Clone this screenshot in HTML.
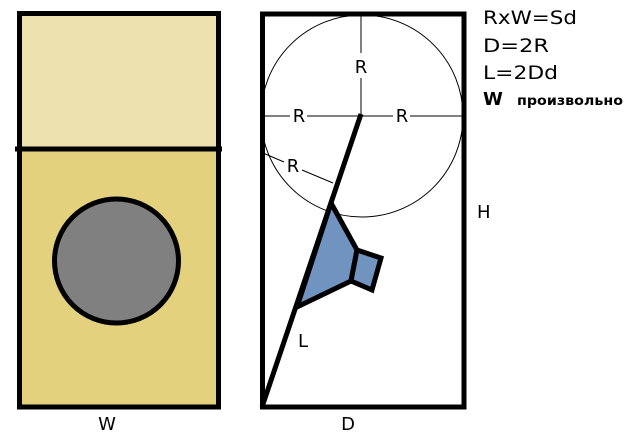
<!DOCTYPE html>
<html><head><meta charset="utf-8"><style>
html,body{margin:0;padding:0;background:#fff;width:633px;height:435px;overflow:hidden}
svg text{font-family:"DejaVu Sans","Liberation Sans",sans-serif;fill:#000}
</style></head><body>
<svg width="633" height="435" viewBox="0 0 633 435" xmlns="http://www.w3.org/2000/svg">
<rect x="19.5" y="13.5" width="199" height="136" fill="#eee1b0"/>
<rect x="19.5" y="149" width="199" height="258" fill="#e4d17e"/>
<rect x="19.5" y="13.5" width="199" height="393.5" fill="none" stroke="#000" stroke-width="5"/>
<line x1="15" y1="149" x2="222" y2="149" stroke="#000" stroke-width="5"/>
<circle cx="116.5" cy="261" r="62" fill="#808080" stroke="#000" stroke-width="5"/>

<rect x="262.5" y="14" width="201.5" height="393" fill="none" stroke="#000" stroke-width="5"/>
<circle cx="362" cy="116" r="101" fill="none" stroke="#000" stroke-width="1"/>
<line x1="262" y1="116" x2="290" y2="116" stroke="#000" stroke-width="1"/>
<line x1="307" y1="116" x2="393" y2="116" stroke="#000" stroke-width="1"/>
<line x1="410" y1="116" x2="463" y2="116" stroke="#000" stroke-width="1"/>
<line x1="361" y1="15" x2="361" y2="53" stroke="#000" stroke-width="1"/>
<line x1="361" y1="78" x2="361" y2="114" stroke="#000" stroke-width="1"/>
<line x1="263" y1="153" x2="284" y2="162" stroke="#000" stroke-width="1"/>
<line x1="302" y1="170" x2="333" y2="183" stroke="#000" stroke-width="1"/>
<polygon points="331,203 357,250 351,281 297,307" fill="#7093c0" stroke="#000" stroke-width="5" stroke-linejoin="miter"/>
<polygon points="357,250 381,258 372,290 351,281" fill="#7093c0" stroke="#000" stroke-width="5"/>
<line x1="361" y1="114" x2="262" y2="407" stroke="#000" stroke-width="5"/>

<text x="361" y="73" font-size="18" text-anchor="middle">R</text>
<text x="299" y="122" font-size="18" text-anchor="middle">R</text>
<text x="402" y="122" font-size="18" text-anchor="middle">R</text>
<text x="293" y="172" font-size="18" text-anchor="middle">R</text>
<text x="477" y="218" font-size="18">H</text>
<text x="298" y="347" font-size="18">L</text>
<text x="107" y="430" font-size="18" text-anchor="middle">W</text>
<text x="348" y="430" font-size="18" text-anchor="middle">D</text>
<text x="483" y="24" font-size="19" textLength="94" lengthAdjust="spacingAndGlyphs">RxW=Sd</text>
<text x="483" y="52" font-size="19" textLength="66" lengthAdjust="spacingAndGlyphs">D=2R</text>
<text x="483" y="79" font-size="19" textLength="75" lengthAdjust="spacingAndGlyphs">L=2Dd</text>
<text x="483" y="105" font-size="18" font-weight="bold">W</text>
<text x="517" y="105" font-size="13" font-weight="bold" textLength="106" lengthAdjust="spacingAndGlyphs">произвольно</text>
</svg>
</body></html>
